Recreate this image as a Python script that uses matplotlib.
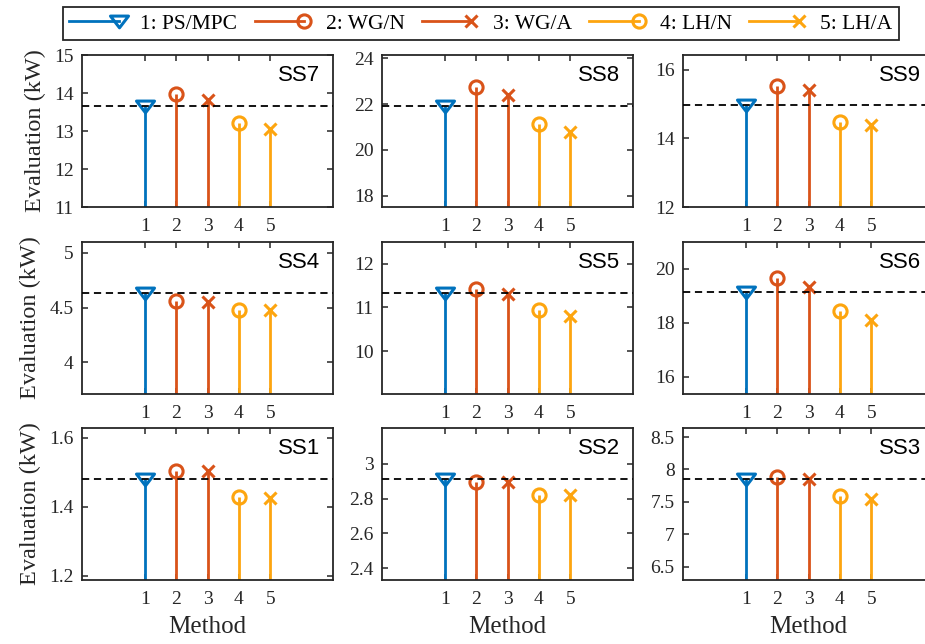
import matplotlib
matplotlib.use("Agg")
import matplotlib.pyplot as plt
from matplotlib.lines import Line2D
from matplotlib.path import Path
from matplotlib.legend_handler import HandlerBase
from matplotlib.ticker import FormatStrFormatter

# Methods compared at each substation
methods = [1, 2, 3, 4, 5]
method_names = ["1: PS/MPC", "2: WG/N", "3: WG/A", "4: LH/N", "5: LH/A"]

# Evaluation (kW) per substation, one value per method
ss1 = [1.481, 1.505, 1.505, 1.428, 1.426]
ss2 = [2.912, 2.897, 2.896, 2.820, 2.820]
ss3 = [7.847, 7.880, 7.855, 7.590, 7.540]
ss4 = [4.633, 4.560, 4.553, 4.480, 4.474]
ss5 = [11.34, 11.43, 11.30, 10.94, 10.81]
ss6 = [19.15, 19.67, 19.32, 18.44, 18.09]
ss7 = [13.66, 13.97, 13.82, 13.20, 13.04]
ss8 = [21.91, 22.77, 22.41, 21.13, 20.76]
ss9 = [14.96, 15.52, 15.42, 14.48, 14.38]

panel_names = ["SS7", "SS8", "SS9", "SS4", "SS5", "SS6", "SS1", "SS2", "SS3"]
panel_values = [ss7, ss8, ss9, ss4, ss5, ss6, ss1, ss2, ss3]
y_limits = [(11, 15), (17.5, 24.15), (12, 16.43),
            (3.71, 5.10), (9.03, 12.49), (15.37, 20.99),
            (1.1875, 1.629), (2.331, 3.206), (6.295, 8.64)]
y_ticks = [[11, 12, 13, 14, 15], [18, 20, 22, 24], [12, 14, 16],
           [4, 4.5, 5], [10, 11, 12], [16, 18, 20],
           [1.2, 1.4, 1.6], [2.4, 2.6, 2.8, 3], [6.5, 7, 7.5, 8, 8.5]]

colors = ["#0072BD", "#D95319", "#D95319", "#FDA50F", "#FDA50F"]
# downward triangle, wider than tall
tri_down = Path([(-1, 0.6), (1, 0.6), (0, -0.7), (-1, 0.6)], closed=True)
markers = [tri_down, "o", "x", "o", "x"]
marker_sizes = [13, 9.5, 8, 9.5, 8]

serif = "Liberation Serif"
sans = "Liberation Sans"
spine_color = "#262626"


class StemHandler(HandlerBase):
    """Legend entry: a stem line with its marker at the right end."""

    def create_artists(self, legend, orig_handle, xdescent, ydescent,
                       width, height, fontsize, trans):
        y = height / 2 - ydescent
        x0 = -xdescent
        x1 = -xdescent + width - 0.3 * fontsize
        line = Line2D([x0, x1], [y, y], color=orig_handle.get_color(),
                      lw=orig_handle.get_linewidth())
        mark = Line2D([x1], [y], ls="none", marker=orig_handle.get_marker(),
                      ms=orig_handle.get_markersize(), mfc="none",
                      mec=orig_handle.get_markeredgecolor(),
                      mew=orig_handle.get_markeredgewidth())
        line.set_transform(trans)
        mark.set_transform(trans)
        return [line, mark]


W, H = 925, 644
fig = plt.figure(figsize=(W / 100, H / 100), dpi=100)

col_left = [82, 382, 683]
row_top = [55, 242, 428]
ax_w, ax_h = 251, 152

for i, (name, vals) in enumerate(zip(panel_names, panel_values)):
    r, c = divmod(i, 3)
    left = col_left[c] / W
    bottom = 1 - (row_top[r] + ax_h) / H
    ax = fig.add_axes([left, bottom, ax_w / W, ax_h / H])

    for x, v, col, mk, ms in zip(methods, vals, colors, markers, marker_sizes):
        ax.vlines(x, 0, v, colors=col, lw=2.0, zorder=2)
        ax.plot([x], [v], ls="none", marker=mk, ms=ms, mfc="none",
                mec=col, mew=2.2, zorder=3)
    ax.axhline(vals[0], color="black", lw=1.3, ls=(0, (4, 2.6)), zorder=4)

    ax.set_xlim(-1, 7)
    ax.set_ylim(*y_limits[i])
    ax.set_xticks(methods)
    ax.set_yticks(y_ticks[i])
    ax.yaxis.set_major_formatter(FormatStrFormatter("%g"))
    ax.tick_params(direction="in", length=4, width=1.1, top=True, right=True,
                   colors=spine_color, labelsize=14)
    ax.tick_params(axis="x", pad=8)
    ax.tick_params(axis="y", pad=6)
    for lab in ax.get_xticklabels() + ax.get_yticklabels():
        lab.set_fontfamily(serif)
    for sp in ax.spines.values():
        sp.set_color(spine_color)
        sp.set_linewidth(1.3)

    ax.text(0.95, 0.862, name, transform=ax.transAxes, ha="right",
            va="center", fontsize=16, family=sans, color="black")

    if c == 0:
        ax.set_ylabel("Evaluation (kW)", fontsize=17.5, family=serif,
                      color=spine_color, labelpad=6)
    if r == 2:
        ax.set_xlabel("Method", fontsize=18, family=serif,
                      color=spine_color, labelpad=6)

handles = [Line2D([], [], color=col, lw=2.0, marker=mk, ms=ms, mfc="none",
                  mec=col, mew=2.2)
           for col, mk, ms in zip(colors, markers, marker_sizes)]
leg = fig.legend(handles, method_names, loc="upper center",
                 bbox_to_anchor=(481 / W, 1 - 7 / H), ncol=5,
                 handler_map={Line2D: StemHandler()},
                 frameon=True, fancybox=False, framealpha=1,
                 edgecolor=spine_color, prop={"family": serif, "size": 15.5},
                 handlelength=2.6, handletextpad=0.7, columnspacing=0.8,
                 borderpad=0.3, borderaxespad=0)
leg.get_frame().set_linewidth(1.3)

fig.savefig("out.png", dpi=100)
